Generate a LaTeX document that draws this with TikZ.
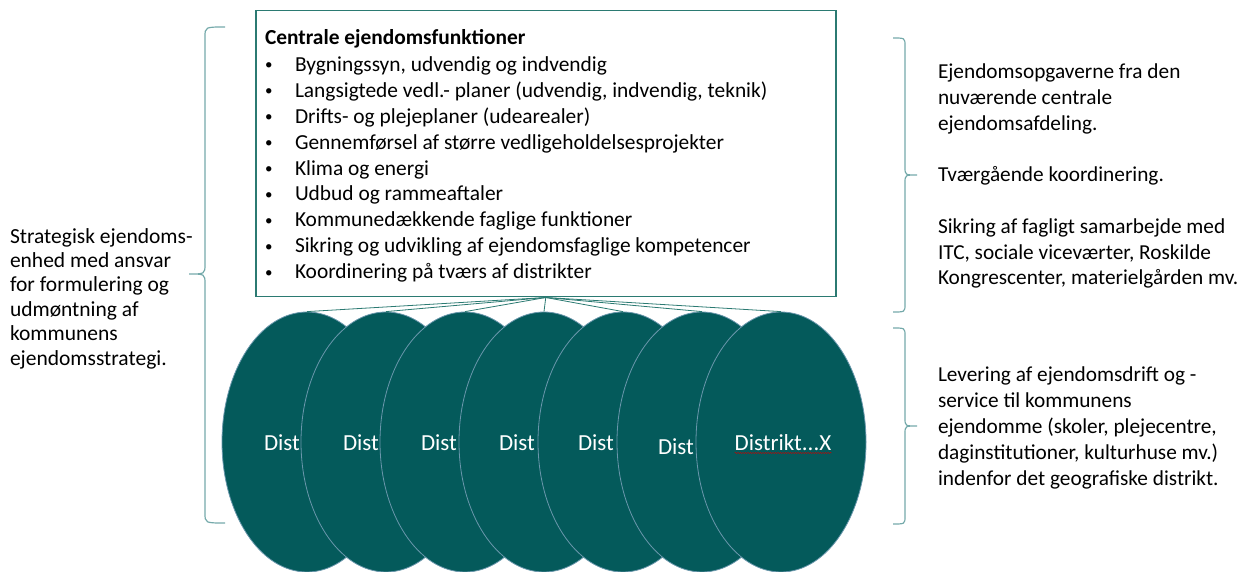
\documentclass[tikz,border=0pt]{standalone}
\usepackage{fontspec}
\setmainfont{Carlito}
\usepackage{xcolor}
\usepackage{tikz}
\usetikzlibrary{shapes,arrows,decorations.pathmorphing}

\definecolor{distfill}{HTML}{045A5B}
\definecolor{distedge}{HTML}{6A97AC}
\definecolor{boxedge}{HTML}{2B7A72}
\definecolor{braceclr}{HTML}{74A9AA}
\newcommand{\bul}{\makebox[30pt][l]{\raisebox{1.5pt}{\fontsize{15}{15}\selectfont •}}}

\begin{document}
\begin{tikzpicture}[x=1pt, y=-1pt]
				\tikzstyle{common} = [inner sep=0, outer sep=0, font=\fontsize{21.3}{25.8}\selectfont]
				\tikzstyle{textblock} = [common, anchor=base west, align=left]
				\tikzstyle{boxtext} = [textblock, font=\fontsize{21.4}{26}\selectfont]
				\tikzstyle{sidetext} = [textblock, font=\fontsize{21.5}{24.4}\selectfont]
				\tikzstyle{funcbox} = [rectangle, draw=boxedge, line width=1.5pt, fill=white, minimum width=580, minimum height=286, anchor=north west]
				\tikzstyle{district} = [ellipse, draw=distedge, line width=0.8pt, fill=distfill, minimum width=170, minimum height=260, inner sep=0, node distance=79]
				\tikzstyle{distlabel} = [common, text=white, anchor=base west, font=\fontsize{23}{26}\selectfont]
				\tikzstyle{line} = [draw=boxedge, line width=0.8pt]
				\tikzstyle{brace} = [draw=braceclr, line width=1.2pt]
				\tikzstyle{spellline} = [draw=red!80!black, line width=0.5pt, decorate, decoration={snake, amplitude=0.6pt, segment length=2.5pt}]
				\useasboundingbox (0,0) rectangle (1251,572);

				% the base anchor of a text block is the baseline of its last line
				\node[funcbox] (central) at (255,10) {};
				\node[boxtext] (funclist) at (265,279) {\textbf{Centrale ejendomsfunktioner}\\
					\bul Bygningssyn, udvendig og indvendig\\
					\bul Langsigtede vedl.- planer (udvendig, indvendig, teknik)\\
					\bul Drifts- og plejeplaner (udearealer)\\
					\bul Gennemførsel af større vedligeholdelsesprojekter\\
					\bul Klima og energi\\
					\bul Udbud og rammeaftaler\\
					\bul Kommunedækkende faglige funktioner\\
					\bul Sikring og udvikling af ejendomsfaglige kompetencer\\
					\bul Koordinering på tværs af distrikter};

				\node[district] (d1) at (307,442) {};
				\node[distlabel] (l1) at ([xshift=-43pt, yshift=-8pt]d1.center) {Dist};
				\node[district, right of=d1] (d2) {};
				\node[distlabel] (l2) at ([xshift=-43pt, yshift=-8pt]d2.center) {Dist};
				\node[district, right of=d2] (d3) {};
				\node[distlabel] (l3) at ([xshift=-44pt, yshift=-8pt]d3.center) {Dist};
				\node[district, right of=d3] (d4) {};
				\node[distlabel] (l4) at ([xshift=-45pt, yshift=-8pt]d4.center) {Dist};
				\node[district, right of=d4] (d5) {};
				\node[distlabel] (l5) at ([xshift=-45pt, yshift=-8pt]d5.center) {Dist};
				\node[district, right of=d5] (d6) {};
				\node[distlabel] (l6) at ([xshift=-44pt, yshift=-12pt]d6.center) {Dist};
				\node[district, right of=d6] (d7) {};
				\node[distlabel, anchor=base] (l7) at ([xshift=2pt, yshift=-8pt]d7.center) {Distrikt...X};
				\draw[spellline] ([yshift=-3pt]l7.base west) -- ([yshift=-3pt]l7.base east);

				\draw[line] (central.south) -- (d1.north);
				\draw[line] (central.south) -- (d2.north);
				\draw[line] (central.south) -- (d3.north);
				\draw[line] (central.south) -- (d4.north);
				\draw[line] (central.south) -- (d5.north);
				\draw[line] (central.south) -- (d6.north);
				\draw[line] (central.south) -- (d7.north);

				\node[sidetext] (strategy) at (10,365) {Strategisk ejendoms-\\enhed med ansvar\\for formulering og\\udmøntning af\\kommunens\\ejendomsstrategi.};
				\node[textblock] (tasks) at (938,285) {Ejendomsopgaverne fra den\\nuværende centrale\\ejendomsafdeling.\\[25.8pt]Tværgående koordinering.\\[25.8pt]Sikring af fagligt samarbejde med\\ITC, sociale viceværter, Roskilde\\Kongrescenter, materielgården mv.};
				\node[textblock] (delivery) at (938,485) {Levering af ejendomsdrift og -\\service til kommunens\\ejendomme (skoler, plejecentre,\\daginstitutioner, kulturhuse mv.)\\indenfor det geografiske distrikt.};

				% klammer
				\draw[brace] (225,27) .. controls (205,27) .. (205,37) -- (205,264) .. controls (205,274) .. (189,274) .. controls (205,274) .. (205,284) -- (205,513) .. controls (205,523) .. (225,523);
				\draw[brace] (893,38) .. controls (905,38) .. (905,46) -- (905,167) .. controls (905,175) .. (917,175) .. controls (905,175) .. (905,183) -- (905,304) .. controls (905,312) .. (893,312);
				\draw[brace] (893,328) .. controls (905,328) .. (905,336) -- (905,418) .. controls (905,426) .. (917,426) .. controls (905,426) .. (905,434) -- (905,516) .. controls (905,524) .. (893,524);
\end{tikzpicture}
\end{document}
